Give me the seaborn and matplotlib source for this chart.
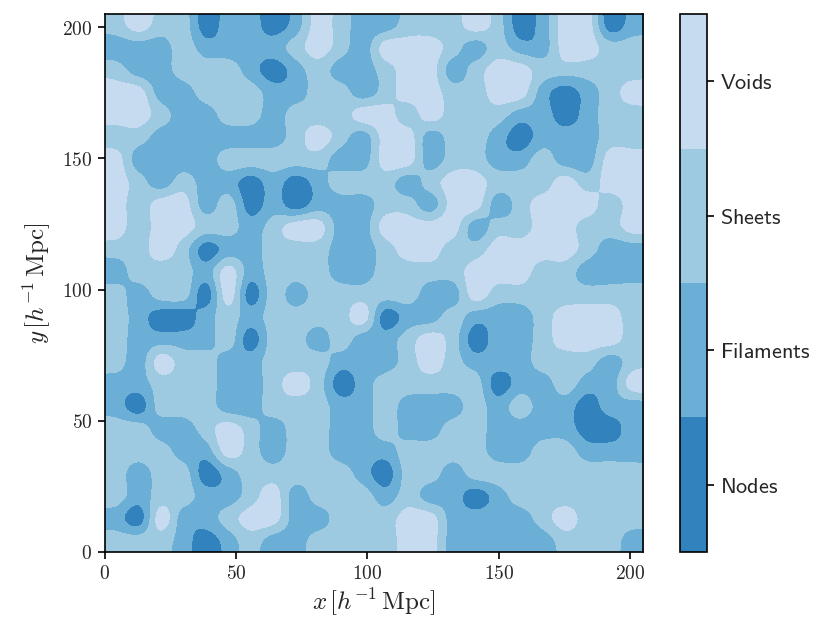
import numpy as np
import matplotlib
matplotlib.use("Agg")
import matplotlib.pyplot as plt
from matplotlib.colors import ListedColormap, BoundaryNorm
import seaborn as sns

# INPUT
box_size = 205.0
class_names = ["Nodes", "Filaments", "Sheets", "Voids"]
class_colors = ["#3182bd", "#6baed6", "#9ecae1", "#c6dbef"]
axis_ticks = [0, 50, 100, 150, 200]

# web class per cell (24 x 24)
# 0 = node, 1 = filament, 2 = sheet, 3 = void ; rows from y = 205 down to y = 0
web_rows = [
    "232201101321122232013301",
    "111211112321333212113322",
    "211222101211233123322222",
    "331122211221233223310123",
    "332112212223323222110122",
    "221111112321331221011122",
    "311112222211331221121133",
    "321211010122212332223233",
    "323312010111221331233323",
    "323322123311333312233223",
    "223201122211233223333211",
    "122213122211222233322111",
    "212203021222221132222222",
    "210012122223011211123332",
    "211112022121123201123332",
    "213221122211123211122212",
    "112221123201222220112113",
    "102221122211211121211011",
    "221123212211211221111001",
    "222113212211122221122111",
    "212201222221022122222222",
    "212211231222121101222222",
    "103112331122233111123222",
    "222101211222233111112221",
]

sns.set_theme(style="ticks")
plt.rcParams["font.family"] = ["DejaVu Sans"]
plt.rcParams["mathtext.fontset"] = "cm"

web = np.array([[int(c) for c in row] for row in web_rows])[::-1]

fig = plt.figure(figsize=(8.31, 6.44), dpi=100)
ax = fig.add_axes([0.126, 0.143, 0.648, 0.835])
cax = fig.add_axes([0.818, 0.143, 0.033, 0.835])

cmap = ListedColormap(sns.color_palette(class_colors))
norm = BoundaryNorm([-0.5, 0.5, 1.5, 2.5, 3.5], cmap.N)
im = ax.imshow(web, origin="lower", extent=[0, box_size, 0, box_size],
               cmap=cmap, norm=norm, interpolation="catrom",
               interpolation_stage="data", aspect="auto")

ax.set_xlim(0, box_size)
ax.set_ylim(0, box_size)
ax.set_xticks(axis_ticks)
ax.set_yticks(axis_ticks)
ax.set_xticklabels([f"${t}$" for t in axis_ticks], fontsize=14)
ax.set_yticklabels([f"${t}$" for t in axis_ticks], fontsize=14)
ax.tick_params(length=5, width=1.2, color="black", pad=4)
for s in ax.spines.values():
    s.set_color("black")
    s.set_linewidth(1.2)
ax.set_xlabel(r"$x\,[h^{-1}\,\mathrm{Mpc}]$", fontsize=18, labelpad=2)
ax.set_ylabel(r"$y\,[h^{-1}\,\mathrm{Mpc}]$", fontsize=18, labelpad=6)

cb = fig.colorbar(im, cax=cax, ticks=[0, 1, 2, 3])
cb.set_ticklabels([r"$\mathsf{" + n + "}$" for n in class_names])
cax.tick_params(length=5, width=1.2, color="black", labelsize=16, pad=4)
cb.outline.set_edgecolor("black")
cb.outline.set_linewidth(1.2)
cax.minorticks_off()

fig.savefig("out.png", dpi=100)
